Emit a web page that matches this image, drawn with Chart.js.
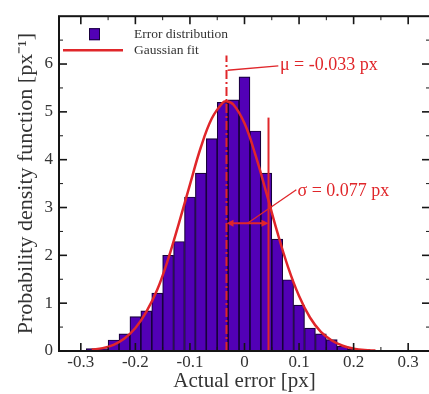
<!DOCTYPE html>
<html><head><meta charset="utf-8">
<script src="https://cdn.jsdelivr.net/npm/chart.js@4.4.1/dist/chart.umd.min.js"></script>
<style>html,body{margin:0;padding:0;background:#fff;overflow:hidden;width:429px;height:394px}canvas{display:block}</style>
</head><body>
<canvas id="c" width="432" height="394" style="width:432px;height:394px"></canvas>
<script>
// ---- data ----
const binCenters = [-0.28,-0.26,-0.24,-0.22,-0.20,-0.18,-0.16,-0.14,-0.12,-0.10,-0.08,-0.06,-0.04,-0.02,0,0.02,0.04,0.06,0.08,0.10,0.12,0.14,0.16,0.18,0.20,0.22];
const density    = [0.05,0.05,0.23,0.36,0.72,0.84,1.21,2.00,2.29,3.22,3.72,4.44,5.20,5.25,5.73,4.60,3.72,2.34,1.49,0.96,0.48,0.36,0.24,0.10,0.035,0.03];
const fitX = [-0.28,-0.26,-0.24,-0.22,-0.20,-0.18,-0.16,-0.14,-0.12,-0.10,-0.08,-0.06,-0.04,-0.033,-0.02,0,0.02,0.04,0.06,0.08,0.10,0.12,0.14,0.16,0.18,0.20,0.22,0.24];
const fitY = [0.03,0.06,0.13,0.26,0.48,0.82,1.28,1.92,2.68,3.48,4.26,4.86,5.19,5.22,5.15,4.76,4.10,3.31,2.49,1.75,1.15,0.70,0.40,0.22,0.11,0.05,0.02,0.01];
const xTickValues = [-0.3,-0.2,-0.1,0,0.1,0.2,0.3];
const xTickLabels = ['-0.3','-0.2','-0.1','0','0.1','0.2','0.3'];
const xMinorTicks = [-0.25,-0.15,-0.05,0.05,0.15,0.25];
const yTickValues = [0,1,2,3,4,5,6];
const yTickLabels = ['0','1','2','3','4','5','6'];
const yMinorTicks = [0.5,1.5,2.5,3.5,4.5,5.5,6.5];
const seriesLabels = ['Error distribution','Gaussian fit'];
const mu = -0.033;
const sigma = 0.077;
const muText = 'μ = -0.033 px';
const sigmaText = 'σ = 0.077 px';
const xTitle = 'Actual error [px]';
const yTitle = 'Probability density function [px⁻¹]';

// ---- styles / annotation placement ----
const RED = '#e0262a';
const PURPLE = '#5200b6';
const SERIF = '"Liberation Serif", "Times New Roman", serif';
const muLineTop = 6.18, sigmaLineTop = 4.88, arrowY = 2.67;
const muLeader = [[-0.031,5.87],[0.062,5.96]];
const muTextPos = [0.065,5.87];
const sigmaLeaderEnd = [0.095,3.37];
const sigmaTextPos = [0.097,3.24];

const framePlugin = {
  id:'frame',
  afterDraw(chart){
    const {ctx, chartArea:a, scales:{x,y}} = chart;
    const seg=(x1,y1,x2,y2)=>{ctx.beginPath();ctx.moveTo(x1,y1);ctx.lineTo(x2,y2);ctx.stroke();};
    ctx.save();
    ctx.strokeStyle='#151515';
    ctx.lineWidth=2;
    ctx.strokeRect(a.left,a.top,a.right-a.left,a.bottom-a.top);
    ctx.lineWidth=1.6;
    xTickValues.forEach(v=>{const p=x.getPixelForValue(v);seg(p,a.bottom,p,a.bottom-8);seg(p,a.top,p,a.top+8);});
    yTickValues.forEach(v=>{const p=y.getPixelForValue(v);seg(a.left,p,a.left+8,p);seg(a.right,p,a.right-8,p);});
    ctx.lineWidth=1;
    xMinorTicks.forEach(v=>{const p=x.getPixelForValue(v);seg(p,a.bottom,p,a.bottom-4);seg(p,a.top,p,a.top+4);});
    yMinorTicks.forEach(v=>{const p=y.getPixelForValue(v);seg(a.left,p,a.left+4,p);seg(a.right,p,a.right-4,p);});
    ctx.restore();
  }
};

const annotPlugin = {
  id:'annot',
  afterDatasetsDraw(chart){
    const {ctx, scales:{x,y}} = chart;
    const px=v=>x.getPixelForValue(v), py=v=>y.getPixelForValue(v);
    const seg=(x1,y1,x2,y2)=>{ctx.beginPath();ctx.moveTo(x1,y1);ctx.lineTo(x2,y2);ctx.stroke();};
    ctx.save();
    ctx.strokeStyle=RED; ctx.fillStyle=RED; ctx.lineWidth=2;
    ctx.setLineDash([9,3,2,3]);
    seg(px(mu),py(0),px(mu),py(muLineTop));
    ctx.setLineDash([]);
    seg(px(mu+sigma),py(0),px(mu+sigma),py(sigmaLineTop));
    const ax1=px(mu), ax2=px(mu+sigma), ay=py(arrowY);
    seg(ax1+5,ay,ax2-5,ay);
    ctx.beginPath();ctx.moveTo(ax1,ay);ctx.lineTo(ax1+7,ay-3.5);ctx.lineTo(ax1+7,ay+3.5);ctx.closePath();ctx.fill();
    ctx.beginPath();ctx.moveTo(ax2,ay);ctx.lineTo(ax2-7,ay-3.5);ctx.lineTo(ax2-7,ay+3.5);ctx.closePath();ctx.fill();
    ctx.lineWidth=1.3;
    seg(px(muLeader[0][0]),py(muLeader[0][1]),px(muLeader[1][0]),py(muLeader[1][1]));
    seg(px(mu+sigma/2),ay,px(sigmaLeaderEnd[0]),py(sigmaLeaderEnd[1]));
    ctx.font='18px '+SERIF;
    ctx.textBaseline='alphabetic'; ctx.textAlign='left';
    ctx.fillText(muText,px(muTextPos[0]),py(muTextPos[1]));
    ctx.fillText(sigmaText,px(sigmaTextPos[0]),py(sigmaTextPos[1]));
    ctx.restore();
  }
};

const legendPlugin = {
  id:'customLegend',
  afterDraw(chart){
    const {ctx, chartArea:a} = chart;
    const bar = chart.data.datasets[1], line = chart.data.datasets[0];
    ctx.save();
    ctx.fillStyle=bar.backgroundColor; ctx.strokeStyle=bar.borderColor; ctx.lineWidth=1;
    ctx.fillRect(a.left+30,a.top+12,11,12); ctx.strokeRect(a.left+30.5,a.top+12.5,10,11);
    ctx.strokeStyle=line.borderColor; ctx.lineWidth=2.5;
    ctx.beginPath();ctx.moveTo(a.left+4,a.top+34);ctx.lineTo(a.left+64,a.top+34);ctx.stroke();
    ctx.fillStyle='#333'; ctx.font='13.5px '+SERIF; ctx.textBaseline='middle'; ctx.textAlign='left';
    ctx.fillText(bar.label,a.left+75,a.top+18);
    ctx.fillText(line.label,a.left+75,a.top+34);
    ctx.restore();
  }
};

new Chart(document.getElementById('c'),{
  type:'bar',
  data:{datasets:[
    {type:'line',label:seriesLabels[1],data:fitX.map((v,i)=>({x:v,y:fitY[i]})),borderColor:RED,borderWidth:2.5,pointRadius:0,tension:0.4,fill:false,order:0},
    {type:'bar',label:seriesLabels[0],data:binCenters.map((v,i)=>({x:v,y:density[i]})),backgroundColor:PURPLE,borderColor:'#18003c',borderWidth:1.2,barPercentage:1,categoryPercentage:1,order:1}
  ]},
  options:{
    responsive:false, animation:false, devicePixelRatio:1,
    layout:{padding:{top:10,right:2,left:0,bottom:0}},
    plugins:{legend:{display:false},tooltip:{enabled:false}},
    scales:{
      x:{type:'linear',min:-0.34,max:0.34,offset:false,
        grid:{display:false,drawTicks:false},border:{display:false},
        afterBuildTicks:s=>{s.ticks=xTickValues.map(v=>({value:v}));},
        afterFit:s=>{s.height=43;},
        ticks:{callback:(v,i)=>xTickLabels[i],font:{family:SERIF,size:17},color:'#333',padding:1,maxRotation:0,autoSkip:false},
        title:{display:true,text:xTitle,font:{family:SERIF,size:21},color:'#333',padding:{top:0,bottom:0}}
      },
      y:{type:'linear',min:0,max:7,
        grid:{display:false,drawTicks:false},border:{display:false},
        afterBuildTicks:s=>{s.ticks=yTickValues.map(v=>({value:v}));},
        afterFit:s=>{s.width=59;},
        ticks:{callback:(v,i)=>yTickLabels[i],font:{family:SERIF,size:17},color:'#333',padding:6,autoSkip:false},
        title:{display:true,text:yTitle,font:{family:SERIF,size:22},color:'#333',padding:{top:13,bottom:0}}
      }
    }
  },
  plugins:[framePlugin,annotPlugin,legendPlugin]
});
</script>
</body></html>
